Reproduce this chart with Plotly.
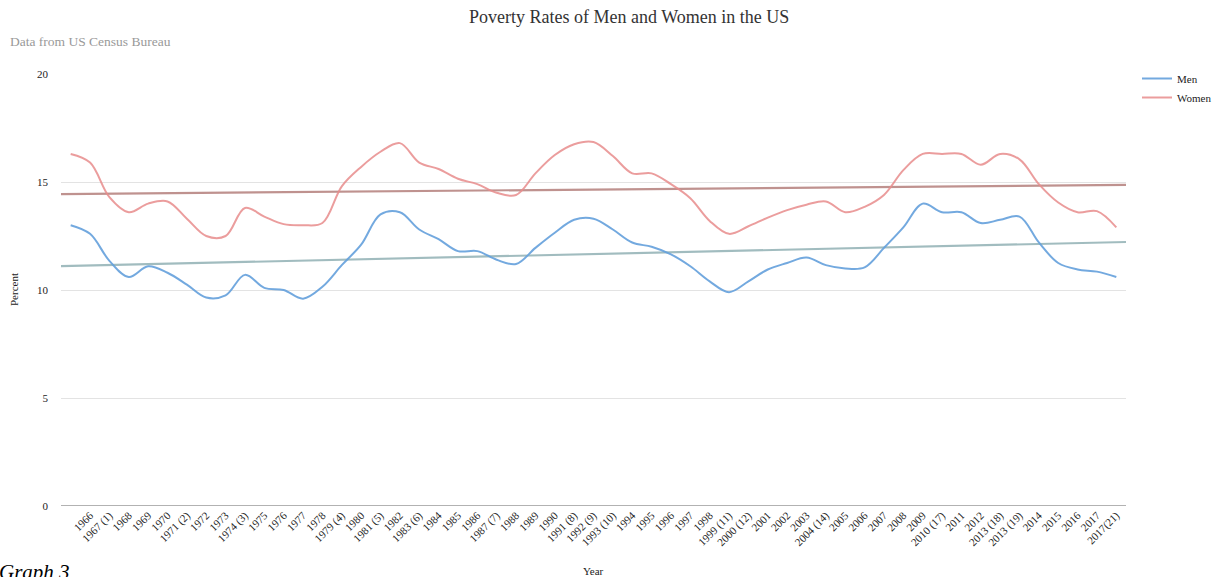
import numpy as np
import plotly.graph_objects as go

# Category labels (first data row has no visible label in the reference)
year_labels = ["", "1966", "1967 (1)", "1968", "1969", "1970", "1971 (2)", "1972", "1973",
               "1974 (3)", "1975", "1976", "1977", "1978", "1979 (4)", "1980", "1981 (5)",
               "1982", "1983 (6)", "1984", "1985", "1986", "1987 (7)", "1988", "1989", "1990",
               "1991 (8)", "1992 (9)", "1993 (10)", "1994", "1995", "1996", "1997", "1998",
               "1999 (11)", "2000 (12)", "2001", "2002", "2003", "2004 (14)", "2005", "2006",
               "2007", "2008", "2009", "2010 (17)", "2011", "2012", "2013 (18)", "2013 (19)",
               "2014", "2015", "2016", "2017", "2017(21)"]

men = [13.0, 12.6, 11.35, 10.6, 11.1, 10.8, 10.25, 9.65, 9.75, 10.7,
       10.1, 10.0, 9.6, 10.15, 11.15, 12.1, 13.5, 13.6, 12.8, 12.35,
       11.8, 11.8, 11.4, 11.2, 11.95, 12.65, 13.25, 13.3, 12.8, 12.2,
       12.0, 11.65, 11.1, 10.4, 9.9, 10.4, 10.95, 11.25, 11.5, 11.15,
       11.0, 11.05, 11.95, 12.9, 14.0, 13.6, 13.6, 13.1, 13.25, 13.4,
       12.2, 11.25, 10.95, 10.85, 10.6]

women = [16.3, 15.9, 14.3, 13.6, 14.0, 14.1, 13.3, 12.5, 12.5, 13.8,
         13.4, 13.05, 13.0, 13.1, 14.8, 15.7, 16.4, 16.8, 15.9, 15.6,
         15.15, 14.9, 14.5, 14.4, 15.4, 16.25, 16.75, 16.85, 16.2, 15.4,
         15.4, 14.9, 14.25, 13.2, 12.6, 12.95, 13.35, 13.7, 13.95, 14.1,
         13.6, 13.85, 14.4, 15.55, 16.3, 16.3, 16.3, 15.8, 16.3, 16.05,
         14.9, 14.05, 13.6, 13.65, 12.9]

y_ticks = [0, 5, 10, 15, 20]

idx = np.arange(len(year_labels))
FONT = "Liberation Serif, Times New Roman, serif"

fig = go.Figure()

# linear trendlines computed from the data
xt = np.array([-0.5, len(year_labels) - 0.5])
for vals, col in [(women, "rgba(170,110,105,0.75)"), (men, "rgba(130,165,170,0.75)")]:
    a, b = np.polyfit(idx, vals, 1)
    fig.add_trace(go.Scatter(x=xt, y=a * xt + b, mode="lines", showlegend=False,
                             line=dict(color=col, width=2.2), hoverinfo="skip"))

fig.add_trace(go.Scatter(x=idx, y=men, name="Men", mode="lines",
                         line=dict(color="rgba(100,160,220,0.9)", width=2, shape="spline", smoothing=1.0)))
fig.add_trace(go.Scatter(x=idx, y=women, name="Women", mode="lines",
                         line=dict(color="rgba(232,140,140,0.85)", width=2, shape="spline", smoothing=1.0)))

W, H = 1219, 577
L, R, T, B = 61, 1126, 74, 506
pw, ph = R - L, B - T

def px(x):
    return (x - L) / pw

def py(y):
    return (B - y) / ph

fig.update_layout(
    width=W, height=H,
    margin=dict(l=L, r=W - R, t=T, b=H - B, autoexpand=False),
    paper_bgcolor="white", plot_bgcolor="white",
    font=dict(family=FONT, size=11, color="#222222"),
    showlegend=True,
    legend=dict(x=px(1137), y=py(64), xanchor="left", yanchor="top",
                font=dict(family=FONT, size=11, color="#222222"),
                itemwidth=30, tracegroupgap=0, bgcolor="rgba(0,0,0,0)"),
    xaxis=dict(range=[-0.5, len(year_labels) - 0.5], tickmode="array",
               tickvals=list(idx), ticktext=year_labels, tickangle=-45, automargin=False,
               showgrid=False, zeroline=False, showline=False,
               ticks="", tickfont=dict(family=FONT, size=11, color="#222222")),
    yaxis=dict(range=[0, 20], tickmode="array", tickvals=y_ticks, automargin=False,
               showgrid=True, gridcolor="#e3e3e3", gridwidth=1, zeroline=False,
               showline=False, ticks="", ticklabelstandoff=12,
               tickfont=dict(family=FONT, size=11, color="#222222")),
    annotations=[
        dict(text="Poverty Rates of Men and Women in the US", xref="paper", yref="paper",
             x=px(629), y=py(17), xanchor="center", yanchor="middle", showarrow=False,
             font=dict(family=FONT, size=18, color="#333333")),
        dict(text="Data from US Census Bureau", xref="paper", yref="paper",
             x=px(8), y=py(41), xanchor="left", yanchor="middle", showarrow=False,
             font=dict(family=FONT, size=13.5, color="#999999")),
        dict(text="Percent", xref="paper", yref="paper", textangle=-90,
             x=px(14), y=py(290), xanchor="center", yanchor="middle", showarrow=False,
             font=dict(family=FONT, size=11, color="#222222")),
        dict(text="Year", xref="paper", yref="paper",
             x=px(593), y=py(571), xanchor="center", yanchor="middle", showarrow=False,
             font=dict(family=FONT, size=11, color="#222222")),
        dict(text="<i>Graph 3</i>", xref="paper", yref="paper",
             x=px(-3), y=py(558), xanchor="left", yanchor="top", showarrow=False,
             font=dict(family=FONT, size=21, color="#000000")),
    ],
)
fig.add_shape(type="line", xref="paper", yref="y", x0=0, x1=1, y0=0, y1=0,
              line=dict(color="#999999", width=1.5))

fig.write_html("out.html", config={"displayModeBar": False},
               post_script="document.body.style.margin='0px';document.body.style.overflow='hidden';")
